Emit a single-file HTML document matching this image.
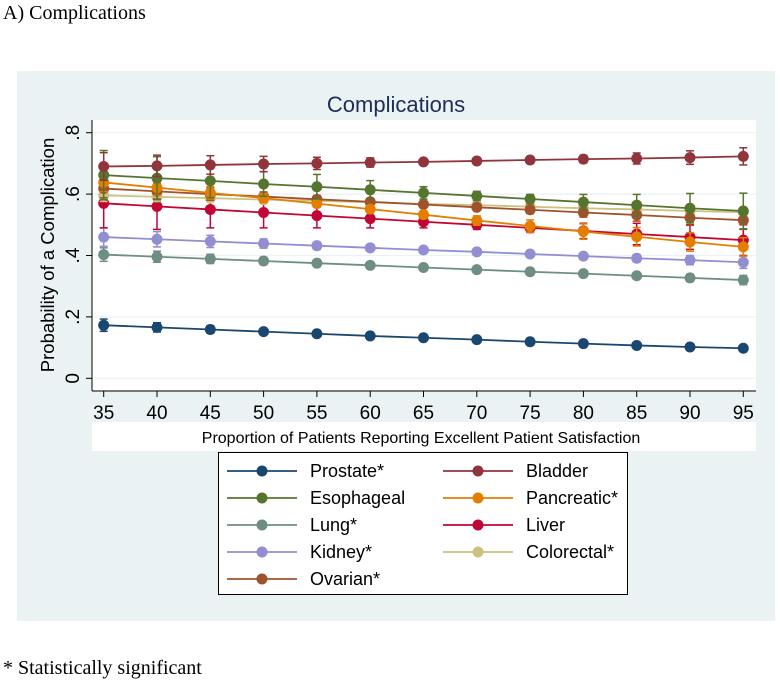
<!DOCTYPE html>
<html><head><meta charset="utf-8"><style>
body{margin:0;width:780px;height:688px;background:#fff;position:relative;overflow:hidden;font-family:"Liberation Sans",sans-serif}
.cap{position:absolute;font-family:"Liberation Serif",serif;font-size:20px;color:#000}
</style></head><body>
<div class="cap" style="left:3px;top:2px">A) Complications</div>
<div class="cap" style="left:3px;top:657px">* Statistically significant</div>
<svg id="chart" width="780" height="688" style="position:absolute;left:0;top:0"></svg>
<script>
const xCats=[35,40,45,50,55,60,65,70,75,80,85,90,95];
const yTicks=[0,0.2,0.4,0.6,0.8];
const yTickLabels=["0",".2",".4",".6",".8"];
const seriesNames=["Prostate","Bladder","Esophageal","Pancreatic","Lung","Liver","Kidney","Colorectal","Ovarian"];
const legendLabels=["Prostate*","Bladder","Esophageal","Pancreatic*","Lung*","Liver","Kidney*","Colorectal*","Ovarian*"];
const prostate=[.173,.166,.159,.152,.145,.138,.132,.126,.119,.113,.107,.102,.098];
const bladder=[.690,.692,.695,.698,.700,.703,.705,.708,.711,.714,.716,.719,.723];
const esophageal=[.662,.652,.643,.633,.624,.614,.604,.594,.584,.574,.564,.554,.545];
const pancreatic=[.638,.621,.604,.587,.569,.551,.533,.514,.496,.478,.461,.444,.428];
const lung=[.403,.396,.389,.382,.375,.368,.361,.354,.347,.341,.334,.327,.320];
const liver=[.570,.560,.550,.540,.530,.520,.510,.500,.490,.480,.470,.460,.450];
const kidney=[.460,.453,.446,.439,.432,.425,.418,.412,.405,.398,.391,.385,.378];
const colorectal=[.596,.591,.587,.582,.578,.573,.568,.564,.559,.554,.550,.545,.541];
const ovarian=[.618,.609,.600,.592,.583,.575,.566,.557,.549,.540,.532,.523,.515];
const prostateErr=[.02,.015,.012,.01,.008,.007,.006,.006,.006,.006,.006,.006,.006];
const bladderErr=[.045,.035,.03,.025,.02,.015,.01,.008,.01,.012,.018,.022,.028];
const esophagealErr=[.08,.07,.055,.04,.04,.03,.02,.015,.015,.025,.035,.048,.058];
const pancreaticErr=[.03,.025,.02,.015,.012,.012,.012,.015,.02,.025,.03,.03,.03];
const lungErr=[.022,.018,.015,.012,.01,.008,.008,.008,.008,.008,.01,.012,.015];
const liverErr=[.08,.075,.06,.05,.04,.03,.02,.015,.015,.025,.035,.04,.05];
const kidneyErr=[.03,.025,.02,.015,.012,.01,.008,.008,.008,.01,.012,.015,.02];
const colorectalErr=[.02,.015,.012,.01,.01,.01,.01,.01,.012,.015,.015,.015,.015];
const ovarianErr=[.03,.025,.02,.015,.012,.01,.01,.01,.012,.015,.02,.025,.03];
const seriesVals=[prostate,bladder,esophageal,pancreatic,lung,liver,kidney,colorectal,ovarian];
const seriesErrs=[prostateErr,bladderErr,esophagealErr,pancreaticErr,lungErr,liverErr,kidneyErr,colorectalErr,ovarianErr];
const colors=["#1a476f","#90353b","#55752f","#e37e00","#6e8e84","#c10534","#938dd2","#cac27e","#a0522d"];
const drawOrder=[0,4,6,5,7,8,3,2,1];

const NS="http://www.w3.org/2000/svg";
const svg=document.getElementById('chart');
function el(tag,attrs,parent){const e=document.createElementNS(NS,tag);for(const k in attrs)e.setAttribute(k,attrs[k]);(parent||svg).appendChild(e);return e;}
const X=v=>103.7+(v-35)*(743.3-103.7)/60;
const Y=v=>378.3-v*307;

let e;
e=el('rect',{x:17,y:71,width:758,height:550,fill:'#eaf2f3'});


e=el('rect',{x:92,y:120,width:664,height:270,fill:'#fff'});


e=el('text',{x:396,y:112,'text-anchor':'middle','font-size':22,fill:'#1e2d53'});e.textContent='Complications';



yTicks.forEach((t,i)=>{
  el('line',{x1:92,x2:756,y1:Y(t),y2:Y(t),stroke:'#eaf2f3','stroke-width':1.2});
  el('line',{x1:86,x2:92,y1:Y(t),y2:Y(t),stroke:'#000','stroke-width':1});
  const tx=el('text',{x:79,y:Y(t),'text-anchor':'middle','font-size':19,fill:'#000',transform:`rotate(-90 79 ${Y(t)})`});
  tx.textContent=yTickLabels[i];
  
  
});
e=el('line',{x1:92,x2:92,y1:120,y2:391,stroke:'#000','stroke-width':1});


e=el('line',{x1:92,x2:756,y1:391,y2:391,stroke:'#000','stroke-width':1});


xCats.forEach(c=>{
  el('line',{x1:X(c),x2:X(c),y1:391,y2:397,stroke:'#000','stroke-width':1});
  const tx=el('text',{x:X(c),y:419,'text-anchor':'middle','font-size':19,fill:'#000'});
  tx.textContent=c;
  
  
});
e=el('text',{x:54,y:255,'text-anchor':'middle','font-size':18.5,fill:'#000',transform:'rotate(-90 54 255)'});e.textContent='Probability of a Complication';


e=el('rect',{x:92,y:422,width:664,height:29,fill:'#fff'});


e=el('text',{x:421,y:443,'text-anchor':'middle','font-size':16,fill:'#000'});e.textContent='Proportion of Patients Reporting Excellent Patient Satisfaction';



drawOrder.forEach(si=>{
  const g=el('g',{});
  
  
  const col=colors[si],v=seriesVals[si],er=seriesErrs[si];
  el('polyline',{points:xCats.map((c,i)=>X(c)+','+Y(v[i])).join(' '),fill:'none',stroke:col,'stroke-width':1.8},g);
  xCats.forEach((c,i)=>{
    const x=X(c),y1=Y(v[i]+er[i]),y2=Y(v[i]-er[i]);
    el('line',{x1:x,x2:x,y1:y1,y2:y2,stroke:col,'stroke-width':1.5},g);
    el('line',{x1:x-4,x2:x+4,y1:y1,y2:y1,stroke:col,'stroke-width':1.5},g);
    el('line',{x1:x-4,x2:x+4,y1:y2,y2:y2,stroke:col,'stroke-width':1.5},g);
    const m=el('circle',{cx:x,cy:Y(v[i]),r:5.5,fill:col},g);
    
    
  });
});

e=el('rect',{x:218.5,y:452.5,width:409,height:142,fill:'#fff',stroke:'#000','stroke-width':1});


const legOrder=[0,1,2,3,4,5,6,7,8];
legOrder.forEach((si,k)=>{
  const col=k%2, row=Math.floor(k/2);
  const lx=col?443:227, y=471+row*27;
  const g=el('g',{});
  
  
  el('line',{x1:lx,x2:lx+70,y1:y,y2:y,stroke:colors[si],'stroke-width':1.8},g);
  el('circle',{cx:lx+35,cy:y,r:5.5,fill:colors[si]},g);
  const t=el('text',{x:lx+83,y:y+6,'font-size':18,fill:'#000'},g);
  t.textContent=legendLabels[si];
});
</script>
</body></html>
